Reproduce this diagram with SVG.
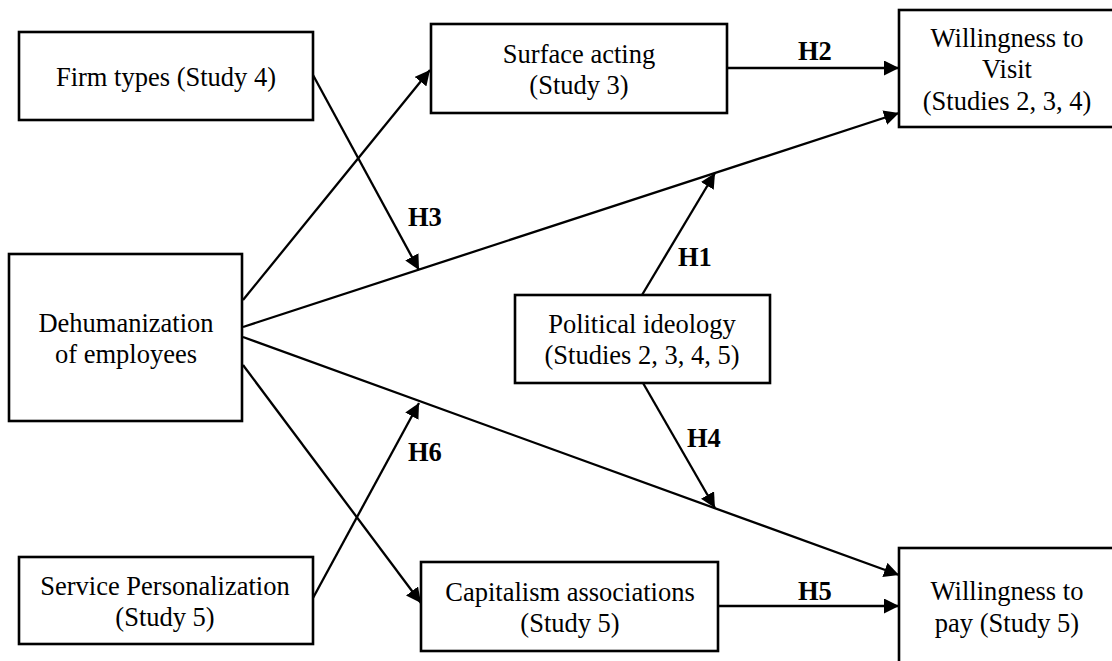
<svg xmlns="http://www.w3.org/2000/svg" width="1112" height="661" viewBox="0 0 1112 661">
<style>
.box{fill:#fff;stroke:#000;stroke-width:2.6}
.t{font-family:"Liberation Serif","Times New Roman",Times,serif;font-size:26.5px;fill:#000;text-anchor:middle}
.h{font-family:"Liberation Serif","Times New Roman",Times,serif;font-size:26.5px;font-weight:bold;fill:#000}
.c{stroke:#000;stroke-width:2.3;fill:none;marker-end:url(#arr)}
</style>
<defs>
<marker id="arr" markerUnits="userSpaceOnUse" markerWidth="16" markerHeight="15" refX="15" refY="7.5" orient="auto">
<path d="M0,0 L15,7.5 L0,15 z" fill="#000"/>
</marker>
</defs>
<rect width="1112" height="661" fill="#fff"/>
<g id="connectors">
<line class="c" x1="243" y1="300" x2="430" y2="70"/>
<line class="c" x1="243" y1="327" x2="899" y2="113"/>
<line class="c" x1="243" y1="337" x2="899" y2="575"/>
<line class="c" x1="243" y1="365" x2="421" y2="603"/>
<line class="c" x1="727" y1="68" x2="899" y2="68"/>
<line class="c" x1="718" y1="606" x2="899" y2="606"/>
<line class="c" x1="313" y1="75" x2="419" y2="270"/>
<line class="c" x1="313" y1="598" x2="419" y2="403"/>
<line class="c" x1="642" y1="295" x2="715" y2="173"/>
<line class="c" x1="643" y1="383" x2="715" y2="508"/>
<text class="h" x="408" y="226">H3</text>
<text class="h" x="798" y="60">H2</text>
<text class="h" x="678" y="266">H1</text>
<text class="h" x="687" y="447">H4</text>
<text class="h" x="408" y="461">H6</text>
<text class="h" x="798" y="600">H5</text>
</g>
<g id="firm">
<rect class="box" x="19" y="32" width="294" height="88"/>
<text class="t" x="166" y="86">Firm types (Study 4)</text>
</g>
<g id="surface">
<rect class="box" x="431" y="24" width="296" height="89"/>
<text class="t" x="579" y="63">Surface acting</text>
<text class="t" x="579" y="94">(Study 3)</text>
</g>
<g id="wtv">
<rect class="box" x="899" y="10" width="222" height="117"/>
<text class="t" x="1007" y="47">Willingness to</text>
<text class="t" x="1007" y="78">Visit</text>
<text class="t" x="1007" y="110">(Studies 2, 3, 4)</text>
</g>
<g id="dehum">
<rect class="box" x="9" y="254" width="233" height="167"/>
<text class="t" x="126" y="332">Dehumanization</text>
<text class="t" x="126" y="363">of employees</text>
</g>
<g id="political">
<rect class="box" x="515" y="295" width="255" height="88"/>
<text class="t" x="642" y="333">Political ideology</text>
<text class="t" x="642" y="364">(Studies 2, 3, 4, 5)</text>
</g>
<g id="service">
<rect class="box" x="19" y="557" width="294" height="87"/>
<text class="t" x="165" y="595">Service Personalization</text>
<text class="t" x="165" y="626">(Study 5)</text>
</g>
<g id="capitalism">
<rect class="box" x="421" y="562" width="297" height="89"/>
<text class="t" x="570" y="601">Capitalism associations</text>
<text class="t" x="570" y="632">(Study 5)</text>
</g>
<g id="wtp">
<rect class="box" x="899" y="548" width="222" height="125"/>
<text class="t" x="1007" y="600">Willingness to</text>
<text class="t" x="1007" y="632">pay (Study 5)</text>
</g>
</svg>
